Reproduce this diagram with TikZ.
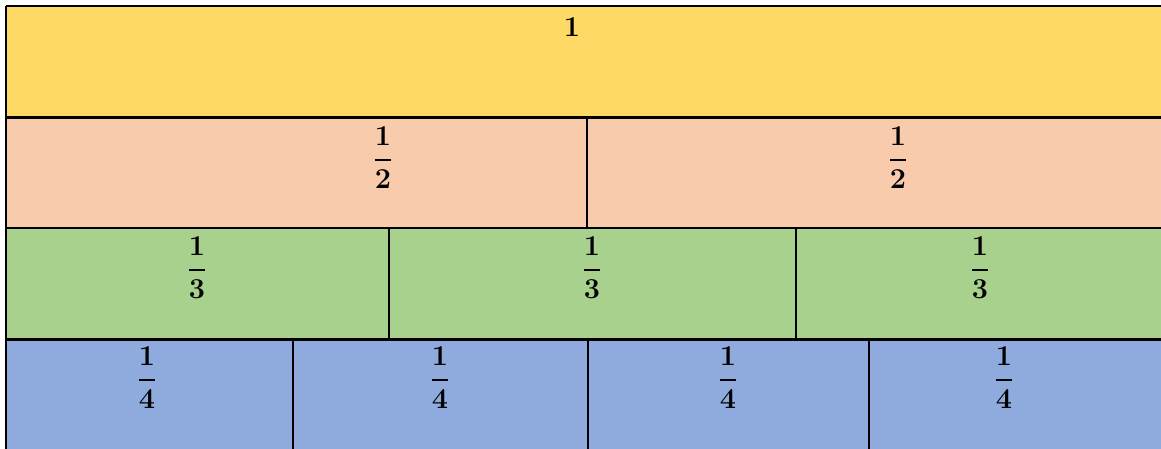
\documentclass[tikz,border=0pt]{standalone}
\usepackage{amsmath,amssymb}
\usepackage{xcolor}

\definecolor{wholecol}{HTML}{FFD966}
\definecolor{halfcol}{HTML}{F8CBAD}
\definecolor{thirdcol}{HTML}{A9D18E}
\definecolor{quartcol}{HTML}{8FAADC}

\begin{document}
\begin{tikzpicture}[x=0.5pt, y=0.5pt, line join=miter,
    hline/.style={line width=1.1pt},
    vline/.style={line width=0.9pt},
    lbl/.style={font=\boldmath\fontsize{15}{17}\selectfont, inner sep=0pt}]

  \useasboundingbox (0,0) rectangle (1161,449);

  % Parameters
  \def\xL{6}        % left edge of the strips
  \def\xR{1175}     % right edge (runs off the picture)
  \def\yA{443}      % top of whole strip
  \def\yB{331.5}    % whole / halves
  \def\yC{221}      % halves / thirds
  \def\yD{109.5}    % thirds / quarters
  \def\yE{-10}      % bottom (runs off the picture)

  % ---- Coloured strips ----
  \fill[wholecol] (\xL,\yB) rectangle (\xR,\yA);
  \fill[halfcol]  (\xL,\yC) rectangle (\xR,\yB);
  \fill[thirdcol] (\xL,\yD) rectangle (\xR,\yC);
  \fill[quartcol] (\xL,\yE) rectangle (\xR,\yD);

  % ---- Horizontal rules and left border ----
  \foreach \y in {\yA,\yB,\yC,\yD}{
    \draw[hline] (\xL,\y) -- (\xR,\y);
  }
  \draw[hline] (\xL,\yA) -- (\xL,\yE);

  % ---- Dividers inside each strip ----
  \draw[vline] (587,\yB) -- (587,\yC);
  \foreach \x in {389,796}{
    \draw[vline] (\x,\yC) -- (\x,\yD);
  }
  \foreach \x in {293,588,869}{
    \draw[vline] (\x,\yD) -- (\x,\yE);
  }

  % ---- Labels ----
  \node[lbl] (whole) at (572,422) {$\mathbf{1}$};
  \foreach \x [count=\i] in {383,898}{
    \node[lbl] (half\i) at (\x,291) {$\dfrac{1}{2}$};
  }
  \foreach \x [count=\i] in {197,592,980}{
    \node[lbl] (third\i) at (\x,181) {$\dfrac{1}{3}$};
  }
  \foreach \x [count=\i] in {147,440,728,1004}{
    \node[lbl] (quart\i) at (\x,71) {$\dfrac{1}{4}$};
  }

\end{tikzpicture}
\end{document}
